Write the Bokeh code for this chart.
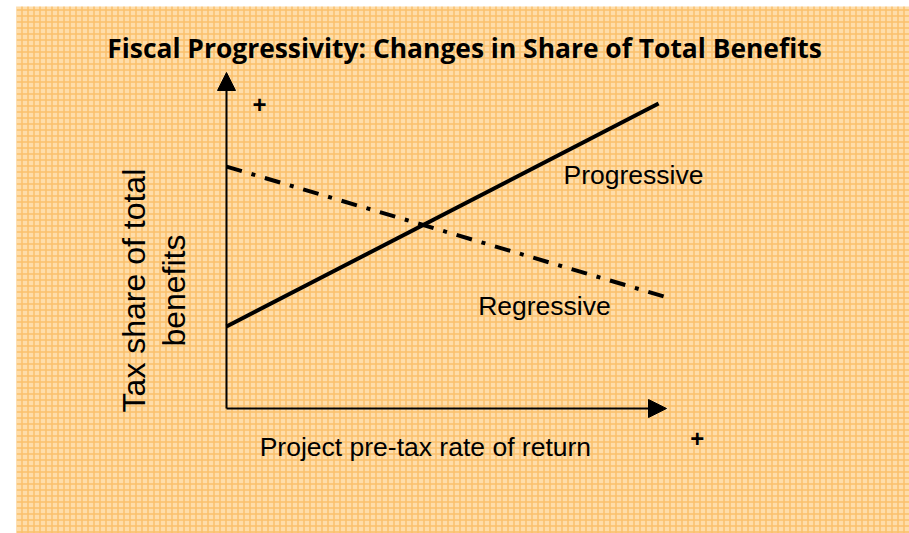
import math
from bokeh.plotting import figure
from bokeh.models import Range1d, Arrow, NormalHead, BoxAnnotation
from bokeh.core.properties import value
from bokeh.embed import file_html
from bokeh.resources import INLINE

# ---- data (conceptual diagram) ----
axis_max_x = 10.0
axis_max_y = 10.0
progressive_x = [0.0, 9.82]
progressive_y = [2.44, 9.08]
regressive_x = [0.0, 9.95]
regressive_y = [7.20, 3.33]

series_labels = ["Progressive", "Regressive"]
series_label_x = [7.66, 5.72]
series_label_y = [6.96, 3.05]

plus_x = [0.75, 10.7]
plus_y = [9.05, -0.89]

title_text = "Fiscal Progressivity: Changes in Share of Total Benefits"
x_label = "Project pre-tax rate of return"
y_label_lines = ["Tax share of total", "benefits"]

# ---- layout ----
W, H = 909, 533
px_x = 44.0   # pixels per x unit
px_y = 33.6   # pixels per y unit
origin_px = (226, 408)  # origin within canvas
xs = -origin_px[0] / px_x
xe = xs + W / px_x
ye = origin_px[1] / px_y
ys = ye - H / px_y

p = figure(width=W, height=H, output_backend="svg", toolbar_location=None,
           x_range=Range1d(xs, xe), y_range=Range1d(ys, ye),
           min_border=0, outline_line_color=None)
p.axis.visible = False
p.grid.visible = False
p.background_fill_color = "white"
p.border_fill_color = "white"

bg = BoxAnnotation(left=xs + 16 / px_x, top=ye - 6 / px_y, fill_color="#FEDDAA", fill_alpha=1.0,
                   hatch_pattern="cross", hatch_color="#F7A836", hatch_alpha=0.55,
                   hatch_scale=6, hatch_weight=1.5, line_color=None, level="underlay")
p.add_layout(bg)

# axes arrows
p.add_layout(Arrow(x_start=0, y_start=0, x_end=0, y_end=axis_max_y, line_width=2,
                   end=NormalHead(size=18, fill_color="black", line_color="black")))
p.add_layout(Arrow(x_start=0, y_start=0, x_end=axis_max_x, y_end=0, line_width=2,
                   end=NormalHead(size=18, fill_color="black", line_color="black")))

p.line(progressive_x, progressive_y, line_color="black", line_width=4)
p.line(regressive_x, regressive_y, line_color="black", line_width=4, line_dash="16 10 4 10")

p.text(series_label_x, series_label_y, text=series_labels, text_font=value("Liberation Sans"),
       text_font_size="26.5px", text_baseline="middle", text_align="left", text_color="black")

p.text(plus_x, plus_y, text=["+", "+"], text_font=value("Liberation Sans"),
       text_font_size="24px", text_font_style="bold",
       text_baseline="middle", text_align="center", text_color="black")

p.text([4.52], [-1.16], text=[x_label], text_font=value("Liberation Sans"),
       text_font_size="26.5px", text_baseline="middle", text_align="center", text_color="black")

p.text([-2.11, -1.2], [3.51, 3.51], text=y_label_lines, angle=math.pi / 2,
       text_font=value("Liberation Sans"), text_font_size="32px",
       text_baseline="middle", text_align="center", text_color="black")

p.text([5.41], [10.72], text=[title_text], text_font=value("Open Sans"),
       text_font_size="26.4px", text_font_style="bold",
       text_baseline="middle", text_align="center", text_color="black")

open("out.html", "w").write(file_html(p, INLINE))
